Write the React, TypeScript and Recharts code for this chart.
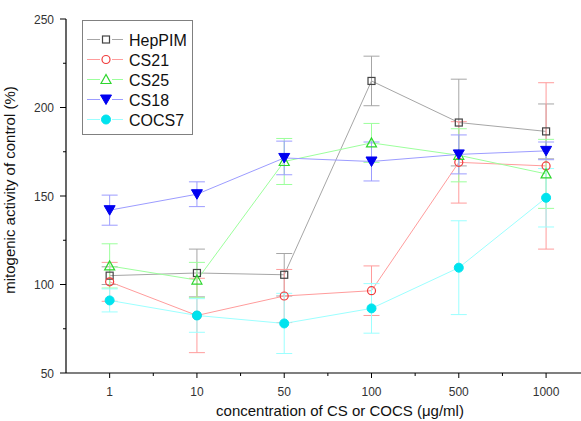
import {
  LineChart, Line, XAxis, YAxis, ErrorBar, Legend,
} from "recharts";

const categories = ["1", "10", "50", "100", "500", "1000"];

const hepPIM = [105, 106.5, 105.5, 215, 191.5, 186.5];
const hepPIMErr = [5, 13.5, 12, 14, 24.5, 15.5];
const cs21 = [101.5, 82.5, 93.5, 96.5, 169, 167];
const cs21Err = [11, 21, 15, 14, 23, 47];
const cs25 = [110.5, 102.5, 169.5, 180, 173, 162.5];
const cs25Err = [12.5, 10, 13, 11, 15, 19.5];
const cs18 = [142, 151, 171.5, 169.5, 173.5, 175.5];
const cs18Err = [8.5, 7, 9.5, 11, 11, 5];
const cocs7 = [91, 82.5, 78, 86.5, 109.5, 149];
const cocs7Err = [6.5, 9.5, 17, 14, 26.5, 16.5];

const yTicks = [50, 75, 100, 125, 150, 175, 200, 225, 250];
const xTicks = [0, 0.5, 1, 1.5, 2, 2.5, 3, 3.5, 4, 4.5, 5];

const data = categories.map((c, i) => ({
  x: i,
  label: c,
  hep: hepPIM[i], hepErr: hepPIMErr[i],
  cs21: cs21[i], cs21Err: cs21Err[i],
  cs25: cs25[i], cs25Err: cs25Err[i],
  cs18: cs18[i], cs18Err: cs18Err[i],
  cocs7: cocs7[i], cocs7Err: cocs7Err[i],
}));

type Shape = "square" | "circle" | "triUp" | "triDown" | "dot";

const series: Array<{ key: string; name: string; line: string; mark: string; shape: Shape }> = [
  { key: "hep", name: "HepPIM", line: "#a6a6a6", mark: "#444444", shape: "square" },
  { key: "cs21", name: "CS21", line: "#ff9c9c", mark: "#f03c3c", shape: "circle" },
  { key: "cs25", name: "CS25", line: "#9cff9c", mark: "#2ed62e", shape: "triUp" },
  { key: "cs18", name: "CS18", line: "#9c9cff", mark: "#0000f0", shape: "triDown" },
  { key: "cocs7", name: "COCS7", line: "#9cffff", mark: "#00e3ee", shape: "dot" },
];

const FONT = "'Liberation Sans', Arial, sans-serif";

function Marker({ cx, cy, shape, color }: { cx: number; cy: number; shape: Shape; color: string }) {
  switch (shape) {
    case "square":
      return <rect x={cx - 3.5} y={cy - 3.5} width={7} height={7} fill="none" stroke={color} strokeWidth={1.2} />;
    case "circle":
      return <circle cx={cx} cy={cy} r={4} fill="none" stroke={color} strokeWidth={1.2} />;
    case "triUp":
      return <polygon points={`${cx},${cy - 5} ${cx - 5},${cy + 4} ${cx + 5},${cy + 4}`} fill="none" stroke={color} strokeWidth={1.2} />;
    case "triDown":
      return <polygon points={`${cx - 5.5},${cy - 4.5} ${cx + 5.5},${cy - 4.5} ${cx},${cy + 5}`} fill={color} stroke={color} />;
    default:
      return <circle cx={cx} cy={cy} r={4.5} fill={color} stroke={color} />;
  }
}

function XTick({ x, y, payload }: any) {
  const major = Number.isInteger(payload.value);
  return (
    <g>
      <line x1={x} x2={x} y1={y} y2={y + (major ? 5 : 3)} stroke="#000" />
      {major && (
        <text x={x} y={y + 23} textAnchor="middle" fontSize={12} fill="#333" fontFamily={FONT}>
          {categories[payload.value]}
        </text>
      )}
    </g>
  );
}

function YTick({ x, y, payload }: any) {
  const major = payload.value % 50 === 0;
  return (
    <g>
      <line x1={x} x2={x - (major ? 6 : 3)} y1={y} y2={y} stroke="#000" />
      {major && (
        <text x={x - 12} y={y + 4.5} textAnchor="end" fontSize={12} fill="#333" fontFamily={FONT}>
          {payload.value}
        </text>
      )}
    </g>
  );
}

function LegendBox() {
  return (
    <svg width={112} height={116} style={{ display: "block" }}>
      <rect x={0.5} y={0.5} width={110} height={114} fill="#fff" stroke="#808080" />
      {series.map((s, i) => {
        const cy = 19.5 + i * 20;
        return (
          <g key={s.key}>
            <line x1={5} x2={18} y1={cy} y2={cy} stroke={s.line} />
            <line x1={30} x2={41} y1={cy} y2={cy} stroke={s.line} />
            <Marker cx={24} cy={cy} shape={s.shape} color={s.mark} />
            <text x={47} y={cy + 6} fontSize={16} fill="#111" fontFamily={FONT}>{s.name}</text>
          </g>
        );
      })}
    </svg>
  );
}

export default function App() {
  return (
    <div style={{ position: "absolute", left: 0, top: 0, background: "#fff" }}>
      <LineChart width={581} height={421} data={data} margin={{ top: 19, right: 0, bottom: 0, left: 0 }}>
        <XAxis
          type="number"
          dataKey="x"
          domain={[-0.5, 5.4]}
          ticks={xTicks}
          interval={0}
          tickSize={0}
          tickMargin={0}
          tickLine={false}
          tick={<XTick />}
          height={48}
          allowDataOverflow
          axisLine={{ stroke: "#000", strokeWidth: 1.2 }}
          label={{
            content: () => (
              <text x={340} y={416} textAnchor="middle" fontSize={15} fill="#111" fontFamily={FONT}>
                concentration of CS or COCS (μg/ml)
              </text>
            ),
          }}
        />
        <YAxis
          type="number"
          domain={[50, 250]}
          ticks={yTicks}
          interval={0}
          tickSize={0}
          tickMargin={0}
          tickLine={false}
          tick={<YTick />}
          width={66}
          axisLine={{ stroke: "#000", strokeWidth: 1.2 }}
          label={{
            content: () => (
              <text x={15} y={190} transform="rotate(-90 15 190)" textAnchor="middle" fontSize={15} fill="#111" fontFamily={FONT}>
                mitogenic activity of control (%)
              </text>
            ),
          }}
        />
        <Legend
          layout="horizontal"
          verticalAlign="middle"
          align="center"
          wrapperStyle={{ left: 82, top: 20, width: 112, height: 116 }}
          content={() => <LegendBox />}
        />
        {series.map((s) => (
          <Line
            key={s.key}
            type="linear"
            dataKey={s.key}
            name={s.name}
            stroke={s.line}
            strokeWidth={1}
            isAnimationActive={false}
            activeDot={false}
            dot={(p: any) => <Marker key={`${s.key}-${p.index}`} cx={p.cx} cy={p.cy} shape={s.shape} color={s.mark} />}
          >
            <ErrorBar dataKey={`${s.key}Err`} width={8} stroke={s.line} strokeWidth={1} direction="y" isAnimationActive={false} />
          </Line>
        ))}
      </LineChart>
    </div>
  );
}
